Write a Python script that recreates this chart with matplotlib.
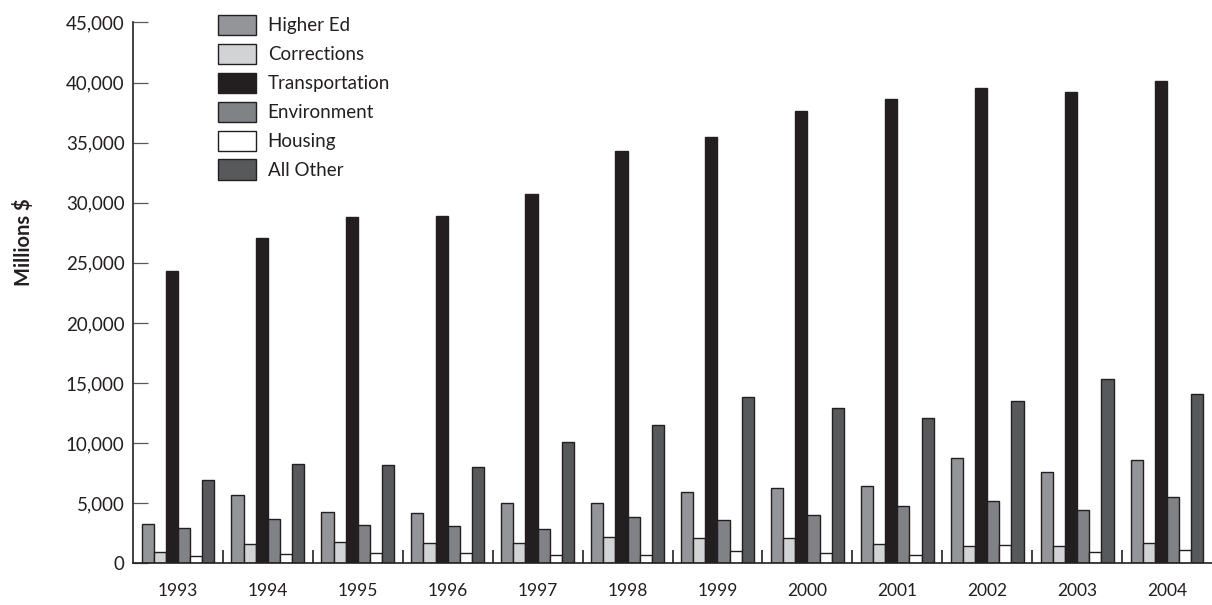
import matplotlib.pyplot as plt
import matplotlib.ticker as mticker
import numpy as np

years = ["1993", "1994", "1995", "1996", "1997", "1998",
         "1999", "2000", "2001", "2002", "2003", "2004"]
higher_ed = [3300, 5700, 4250, 4150, 5050, 5050, 5900, 6300, 6400, 8750, 7600, 8600]
corrections = [950, 1600, 1750, 1650, 1650, 2150, 2100, 2100, 1600, 1450, 1400, 1650]
transportation = [24300, 27050, 28800, 28900, 30750, 34300,
                  35450, 37650, 38600, 39550, 39200, 40150]
environment = [2900, 3650, 3200, 3100, 2850, 3850, 3600, 4000, 4750, 5150, 4450, 5550]
housing = [600, 800, 850, 850, 700, 700, 1000, 850, 650, 1500, 950, 1100]
all_other = [6950, 8250, 8200, 8050, 10100, 11500, 13800, 12900, 12050, 13500, 15350, 14050]

series = ["Higher Ed", "Corrections", "Transportation", "Environment", "Housing", "All Other"]
values = [higher_ed, corrections, transportation, environment, housing, all_other]
colors = ["#939598", "#d1d3d4", "#231f20", "#808285", "#ffffff", "#58595b"]

plt.rcParams['font.family'] = ['Lato', 'DejaVu Sans']
dark = "#231f20"

fig = plt.figure(figsize=(12.12, 6.05), dpi=100)
ax = fig.add_axes([133 / 1212, 1 - 563.3 / 605, 1 - 133 / 1212, (563.3 - 22.4) / 605])

x = np.arange(len(years))
w = 0.135
for i, (name, vals, c) in enumerate(zip(series, values, colors)):
    ax.bar(x + (i - 2.5) * w, vals, width=w, color=c, edgecolor=dark,
           linewidth=1.0, label=name, zorder=2)

ax.set_xlim(-0.5, len(years) - 0.5)
ax.set_ylim(0, 45000)

# spines
for s in ["top", "right"]:
    ax.spines[s].set_visible(False)
for s in ["left", "bottom"]:
    ax.spines[s].set_color(dark)
    ax.spines[s].set_linewidth(1.2)

# y ticks
ax.set_yticks(np.arange(0, 45001, 5000))
ax.yaxis.set_major_formatter(mticker.FuncFormatter(lambda v, p: f"{int(v):,}"))
ax.tick_params(axis="y", direction="in", length=10.8, width=0.9, color="#58595b",
               pad=6, labelsize=13.5, labelcolor=dark)

# x ticks: labels at centres, separators between groups
ax.set_xticks(x)
ax.set_xticklabels(years)
ax.tick_params(axis="x", which="major", length=0, pad=14, labelsize=12.5, labelcolor=dark)
ax.set_xticks(np.arange(0.5, len(years) - 1, 1), minor=True)
ax.tick_params(axis="x", which="minor", direction="in", length=9.4, width=1.2, color=dark)

ax.set_ylabel("Millions $", fontsize=14.5, fontweight="bold", color=dark)
ax.yaxis.set_label_coords(-0.092, 0.594)

fig.legend(loc="upper left", bbox_to_anchor=(218 / 1212, 1 - 15 / 605), frameon=False,
           fontsize=13.5, handlelength=2.0, handleheight=1.3, labelspacing=0.45,
           handletextpad=0.65, borderpad=0, borderaxespad=0, labelcolor=dark)

fig.savefig("out.png", dpi=100)
